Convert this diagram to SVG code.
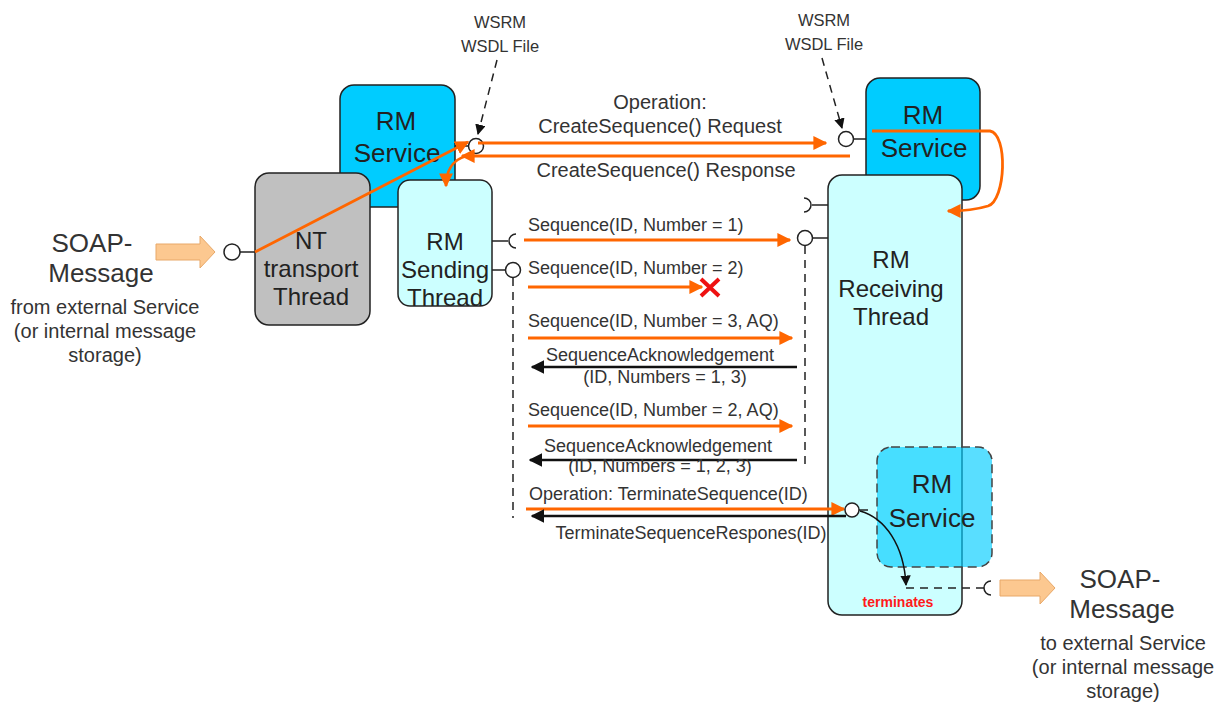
<svg xmlns="http://www.w3.org/2000/svg" width="1218" height="702" viewBox="0 0 1218 702">
  <defs>
    <style>
      text { font-family: "Liberation Sans", Arial, sans-serif; fill: #333; }
      .big { font-size: 26px; text-anchor: middle; }
      .node { font-size: 24px; text-anchor: middle; fill: #222; }
      .svcl { font-size: 26px; text-anchor: middle; fill: #222; }
      .note { font-size: 20px; text-anchor: middle; }
      .wsdl { font-size: 16.5px; text-anchor: middle; }
      .op { font-size: 20px; text-anchor: middle; }
      .lbl { font-size: 18px; }
      .lblc { font-size: 18px; text-anchor: middle; }
      .box { stroke: #222; stroke-width: 1.5; }
      .svc { fill: #00ccff; }
      .thr { fill: #ccffff; }
      .orange { stroke: #ff6600; stroke-width: 2.8; fill: none; }
      .black { stroke: #111; stroke-width: 2.5; fill: none; }
      .port { fill: #fff; stroke: #222; stroke-width: 1.5; }
      .wire { stroke: #222; stroke-width: 1.5; fill: none; }
      .dash { stroke: #222; stroke-width: 1.5; fill: none; stroke-dasharray: 8 6; }
      .blockarrow { fill: #fcc890; stroke: #e8a868; stroke-width: 1; }
    </style>
    <marker id="ahO" viewBox="0 0 10 10" refX="9" refY="5" markerWidth="5" markerHeight="5" orient="auto" markerUnits="strokeWidth">
      <path d="M0,0 L10,5 L0,10 z" fill="#ff6600"/>
    </marker>
    <marker id="ahK" viewBox="0 0 10 10" refX="9" refY="5" markerWidth="5.5" markerHeight="5.5" orient="auto" markerUnits="strokeWidth">
      <path d="M0,0 L10,5 L0,10 z" fill="#111"/>
    </marker>
    <marker id="ahD" viewBox="0 0 10 10" refX="9" refY="5" markerWidth="7" markerHeight="7" orient="auto" markerUnits="strokeWidth">
      <path d="M0,0 L10,5 L0,10 z" fill="#111"/>
    </marker>
  </defs>

  <rect width="1218" height="702" fill="#fff"/>

  <!-- left message source -->
  <g id="soap-in">
    <text class="big" x="92" y="252">SOAP-</text>
    <text class="big" x="101" y="282">Message</text>
    <text class="note" x="105" y="314">from external Service</text>
    <text class="note" x="105" y="338">(or internal message</text>
    <text class="note" x="105" y="362">storage)</text>
    <path class="blockarrow" d="M156,244 H200 V236 L215,252 L200,268 V260 H156 z"/>
  </g>

  <!-- RM Service (sender side) -->
  <g id="rm-service-left">
    <rect class="box svc" x="340" y="85" width="115" height="122" rx="14"/>
    <text class="svcl" x="396" y="130">RM</text>
    <text class="svcl" x="397" y="162">Service</text>
  </g>

  <!-- NT transport thread -->
  <g id="nt-transport">
    <rect class="box" fill="#c0c0c0" x="255" y="173" width="115" height="152" rx="14"/>
    <text class="node" x="311" y="249">NT</text>
    <text class="node" x="311" y="277">transport</text>
    <text class="node" x="311" y="305">Thread</text>
  </g>

  <!-- RM sending thread -->
  <g id="rm-sending">
    <rect class="box thr" x="398" y="180" width="94" height="126" rx="12"/>
    <text class="node" x="445" y="250">RM</text>
    <text class="node" x="445" y="278">Sending</text>
    <text class="node" x="445" y="306">Thread</text>
  </g>

  <!-- RM Service (receiver side) -->
  <g id="rm-service-right">
    <rect class="box svc" x="866" y="78" width="114" height="122" rx="14"/>
    <text class="svcl" x="923" y="124">RM</text>
    <text class="svcl" x="924" y="157">Service</text>
  </g>

  <!-- RM receiving thread -->
  <g id="rm-receiving">
    <rect class="box thr" x="828" y="175" width="134" height="440" rx="14"/>
    <text class="node" x="891" y="268">RM</text>
    <text class="node" x="891" y="297">Receiving</text>
    <text class="node" x="891" y="325">Thread</text>
  </g>

  <!-- RM Service instance inside the receiving thread -->
  <g id="rm-service-inner">
    <rect x="877" y="447" width="115" height="120" rx="14" fill="#00ccff" fill-opacity="0.65" stroke="#444" stroke-width="1.5" stroke-dasharray="9 5"/>
    <text class="svcl" x="932" y="493">RM</text>
    <text class="svcl" x="932" y="527">Service</text>
    <text x="898" y="607" font-size="14" font-weight="bold" text-anchor="middle" style="fill:#ff1a1a">terminates</text>
  </g>

  <!-- outgoing message -->
  <g id="soap-out">
    <path class="blockarrow" d="M1000,580 H1040 V572 L1055,588 L1040,604 V596 H1000 z"/>
    <text class="big" x="1120" y="588">SOAP-</text>
    <text class="big" x="1122" y="618">Message</text>
    <text class="note" x="1123" y="650">to external Service</text>
    <text class="note" x="1123" y="674">(or internal message</text>
    <text class="note" x="1123" y="698">storage)</text>
  </g>

  <!-- WSDL annotations -->
  <g id="wsdl-left">
    <text class="wsdl" x="500" y="28">WSRM</text>
    <text class="wsdl" x="500" y="52">WSDL File</text>
  </g>
  <g id="wsdl-right">
    <text class="wsdl" x="824" y="26">WSRM</text>
    <text class="wsdl" x="824" y="50">WSDL File</text>
  </g>

  <!-- connectors -->
  <g id="connectors">
    <!-- ports and sockets -->
    <path class="wire" d="M240,252 H255"/>
    <circle class="port" cx="232" cy="252" r="8"/>
    <path class="wire" d="M455,146 H468"/>
    <circle class="port" cx="476" cy="146" r="7.5"/>
    <path class="wire" d="M854,139 H866"/>
    <circle class="port" cx="846" cy="139" r="7.5"/>
    <path class="wire" d="M492,241 H508"/>
    <path class="wire" d="M516,234 A7 7 0 0 0 516,248"/>
    <path class="wire" d="M492,270 H506"/>
    <circle class="port" cx="513" cy="270" r="7.5"/>
    <path class="wire" d="M812,205 H828"/>
    <path class="wire" d="M804,198 A7 7 0 0 1 804,212"/>
    <path class="wire" d="M813,238 H828"/>
    <circle class="port" cx="805" cy="238" r="7.5"/>

    <!-- lifelines -->
    <path class="dash" d="M513,278 V518"/>
    <path class="dash" d="M805,246 V466"/>

    <!-- WSDL pointers -->
    <path class="dash" d="M497,60 L478,134" marker-end="url(#ahD)"/>
    <path class="dash" d="M822,58 L842,128" marker-end="url(#ahD)"/>

    <!-- incoming message through transport into RM service -->
    <path class="orange" d="M255,252 L468,142" marker-end="url(#ahO)"/>

    <!-- CreateSequence handshake -->
    <path class="orange" d="M478,143 H826" marker-end="url(#ahO)"/>
    <text class="op" x="660" y="109">Operation:</text>
    <text class="op" x="660" y="133">CreateSequence() Request</text>
    <path class="orange" d="M850,156 H462" marker-end="url(#ahO)"/>
    <text class="op" x="666" y="177">CreateSequence() Response</text>
    <path class="orange" d="M466,156 C452,160 446,172 446,186" marker-end="url(#ahO)"/>
    <path class="orange" d="M872,131 H990 C1008,134 1006,200 988,206 C975,210 962,211 948,211" marker-end="url(#ahO)"/>

    <!-- sequence messages -->
    <text class="lbl" x="528" y="231">Sequence(ID, Number = 1)</text>
    <path class="orange" d="M524,240 H790" marker-end="url(#ahO)"/>
    <text class="lbl" x="528" y="274">Sequence(ID, Number = 2)</text>
    <path class="orange" d="M528,287 H702" marker-end="url(#ahO)"/>
    <path d="M701,279 L719,296 M719,279 L701,296" stroke="#ee1111" stroke-width="4"/>
    <text class="lbl" x="528" y="327">Sequence(ID, Number = 3, AQ)</text>
    <path class="orange" d="M528,338 H792" marker-end="url(#ahO)"/>
    <text class="lblc" x="660" y="361">SequenceAcknowledgement</text>
    <path class="black" d="M797,367 H532" marker-end="url(#ahK)"/>
    <text class="lblc" x="665" y="383">(ID, Numbers = 1, 3)</text>
    <text class="lbl" x="528" y="416">Sequence(ID, Number = 2, AQ)</text>
    <path class="orange" d="M528,426 H792" marker-end="url(#ahO)"/>
    <text class="lblc" x="658" y="452">SequenceAcknowledgement</text>
    <path class="black" d="M797,460 H530" marker-end="url(#ahK)"/>
    <text class="lblc" x="660" y="472">(ID, Numbers = 1, 2, 3)</text>

    <!-- termination -->
    <text class="lbl" x="529" y="500">Operation: TerminateSequence(ID)</text>
    <path class="orange" d="M526,509 H844" marker-end="url(#ahO)"/>
    <path class="black" d="M846,516 H532" marker-end="url(#ahK)"/>
    <text class="lblc" x="691" y="539">TerminateSequenceRespones(ID)</text>
    <path class="wire" d="M859,510 H868"/>
    <circle class="port" cx="852" cy="510" r="7"/>
    <path d="M860,511 C885,518 904,545 906,585" stroke="#111" stroke-width="1.5" fill="none" marker-end="url(#ahD)"/>
    <path class="dash" d="M906,588 H978"/>
    <path class="wire" d="M978,588 H984"/>
    <path class="wire" d="M991,581 A7 7 0 0 0 991,595"/>
  </g>
</svg>
